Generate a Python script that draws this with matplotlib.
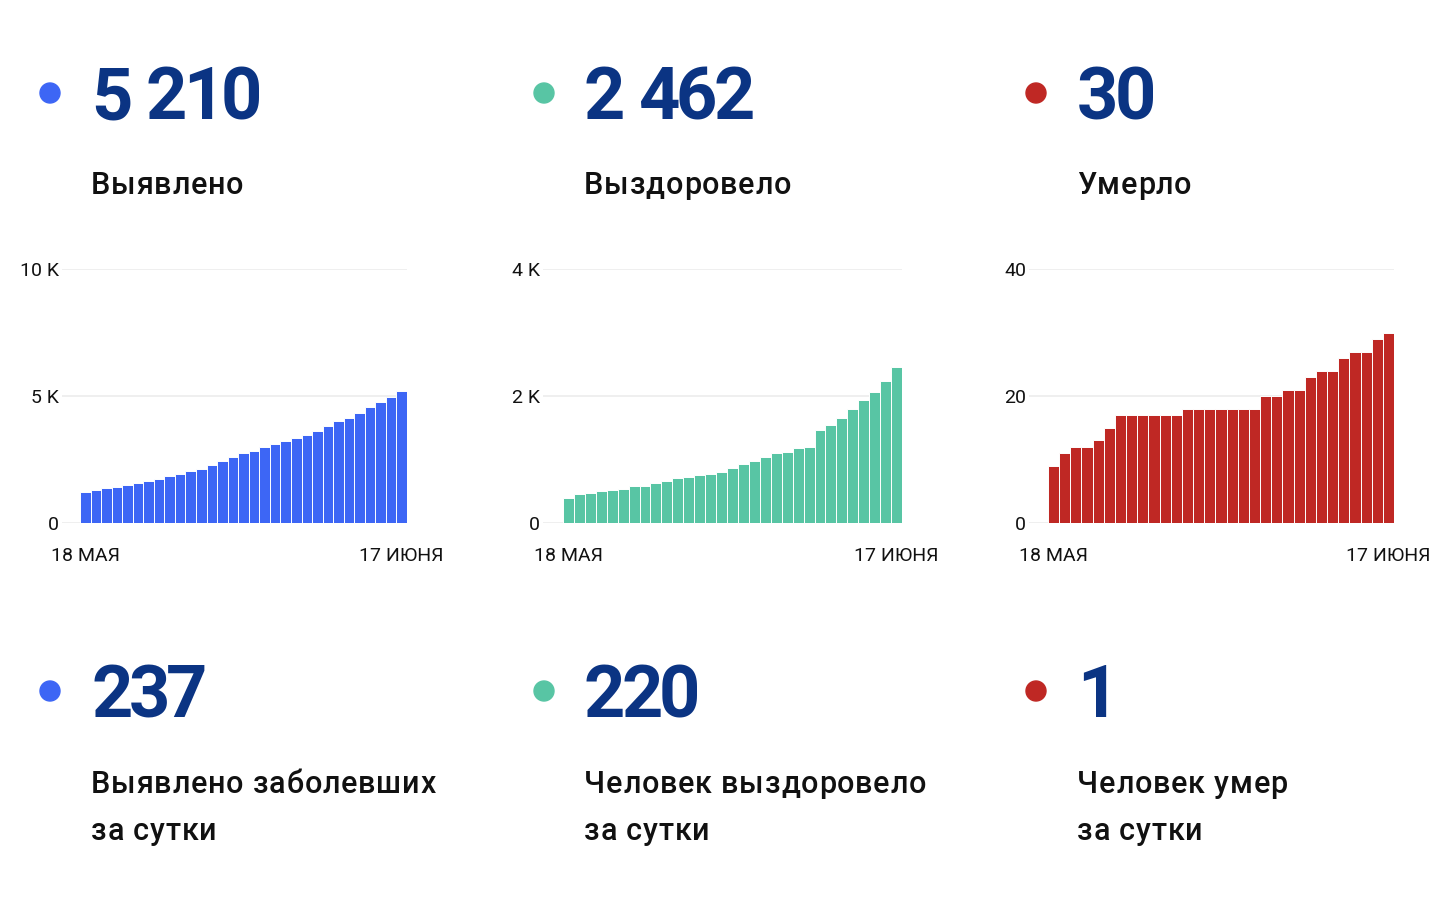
import matplotlib
matplotlib.use("Agg")
import matplotlib.pyplot as plt
from matplotlib.patches import Ellipse
from matplotlib.font_manager import FontProperties, findfont, get_font

W, H = 1454, 898

# daily cumulative values, 18 May .. 17 June
cases = [1240, 1310, 1370, 1430, 1510, 1560, 1660, 1750, 1850, 1910,
         2030, 2130, 2290, 2430, 2580, 2740, 2840, 2980, 3100, 3220,
         3340, 3470, 3610, 3810, 4010, 4150, 4330, 4550, 4750, 4970, 5210]
recovered = [390, 450, 470, 500, 520, 540, 580, 590, 630, 660,
             710, 720, 750, 770, 810, 860, 930, 970, 1040, 1110,
             1120, 1180, 1200, 1460, 1550, 1650, 1800, 1940, 2070, 2240, 2462]
deaths = [9, 11, 12, 12, 13, 15, 17, 17, 17, 17, 17, 17, 18, 18, 18, 18,
          18, 18, 18, 20, 20, 21, 21, 23, 24, 24, 26, 27, 27, 29, 30]

totals = ["5 210", "2 462", "30"]
total_labels = ["Выявлено", "Выздоровело", "Умерло"]
daily = ["237", "220", "1"]
daily_labels = [["Выявлено заболевших", "за сутки"],
                ["Человек выздоровело", "за сутки"],
                ["Человек умер", "за сутки"]]
y_ticks = [[0, 5000, 10000], [0, 2000, 4000], [0, 20, 40]]
y_ticklabels = [["0", "5 K", "10 K"], ["0", "2 K", "4 K"], ["0", "20", "40"]]
date_labels = ["18 МАЯ", "17 ИЮНЯ"]

colors = ["#3d66f5", "#58c5a4", "#bf2824"]
navy = "#0b3483"
ink = "#111111"

plt.rcParams["font.family"] = ["Roboto", "DejaVu Sans"]

fig = plt.figure(figsize=(W / 100, H / 100), dpi=100)
fig.patch.set_facecolor("white")


def fx(px):
    return px / W


def fy(py):
    return 1 - py / H


def tracked(x_px, y_px, s, size, weight, color, track, space_extra=0):
    """Draw s char by char (baseline at y_px) with extra letter spacing."""
    prop = FontProperties(family="Roboto", weight=weight, size=size)
    font = get_font(findfont(prop))
    font.set_size(size, 100)
    x = x_px
    for c in s:
        if c != " ":
            fig.text(fx(x), fy(y_px), c, fontproperties=prop, color=color,
                     va="baseline", ha="left")
        else:
            x += space_extra
        g = font.load_char(ord(c))
        x += g.linearHoriAdvance / 65536 + track


dot_x = [50, 544, 1036]
text_x = [91, 584, 1077]
# axes left edge (gridline start), first bar left edge, last bar right edge
ax_left = [62, 543, 1029]
bar_left = [80, 563, 1048]
bar_right = [407, 902, 1394]
ax_top, ax_bottom = 269, 523

series = [cases, recovered, deaths]

for i in range(3):
    # top block
    fig.patches.append(Ellipse((fx(dot_x[i]), fy(93)), 20 / W, 20 / H,
                               transform=fig.transFigure, color=colors[i]))
    tracked(text_x[i], 119, totals[i], 52, "bold", navy, -4, space_extra=3)
    tracked(text_x[i], 194, total_labels[i], 22, "medium", ink, 0.8)

    # bottom block
    fig.patches.append(Ellipse((fx(dot_x[i]), fy(691)), 20 / W, 20 / H,
                               transform=fig.transFigure, color=colors[i]))
    tracked(text_x[i], 717, daily[i], 52, "bold", navy, -4, space_extra=3)
    for k, line in enumerate(daily_labels[i]):
        tracked(text_x[i], 793 + 47 * k, line, 22, "medium", ink, 0.8)

    # chart
    vals = series[i]
    n = len(vals)
    slot = (bar_right[i] - bar_left[i]) / n
    pad = (bar_left[i] - ax_left[i]) / slot
    ax = fig.add_axes([fx(ax_left[i]), fy(ax_bottom),
                       fx(bar_right[i] - ax_left[i]), (ax_bottom - ax_top) / H])
    ax.bar(range(n), vals, width=1.0, align="edge", color=colors[i],
           edgecolor="white", linewidth=0.7, zorder=3)
    ax.set_xlim(-pad, n)
    ax.set_ylim(0, y_ticks[i][-1])
    ax.set_yticks(y_ticks[i])
    ax.set_yticklabels(y_ticklabels[i])
    ax.yaxis.grid(True, color="#ececec", linewidth=1.2, zorder=0)
    ax.set_axisbelow(True)
    ax.set_xticks([0.5, n - 0.5])
    ax.set_xticklabels(date_labels)
    ax.tick_params(axis="y", length=0, pad=2, labelsize=14, labelcolor=ink)
    ax.tick_params(axis="x", length=0, pad=17.5, labelsize=14, labelcolor=ink)
    for s in ax.spines.values():
        s.set_visible(False)
    ax.set_facecolor("none")

fig.savefig("out.png", dpi=100, facecolor="white")
